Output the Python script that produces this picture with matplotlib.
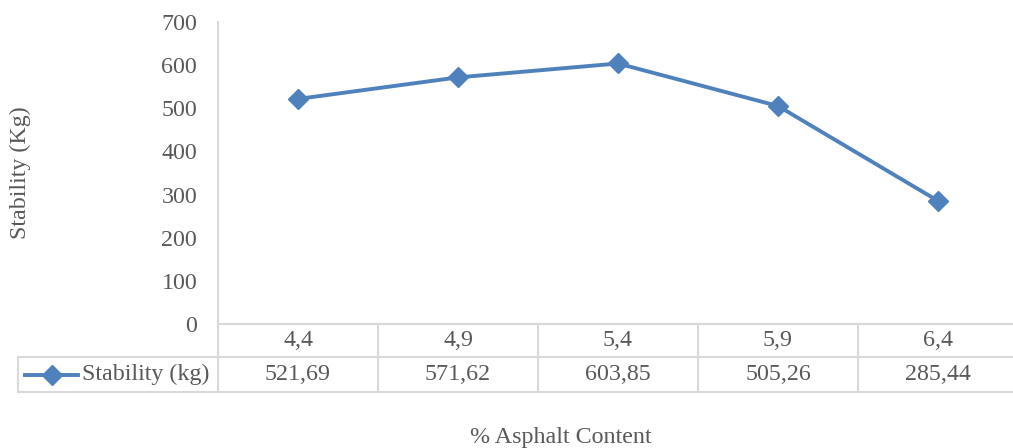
import matplotlib.pyplot as plt
from matplotlib.lines import Line2D

plt.rcParams['font.family'] = ['Liberation Serif', 'DejaVu Serif']

asphalt = ['4,4', '4,9', '5,4', '5,9', '6,4']
stability = [521.69, 571.62, 603.85, 505.26, 285.44]
series_name = 'Stability (kg)'

W, H = 1013, 448
blue = '#4F81BD'
grey_txt = '#595959'
grid = '#D9D9D9'
fs = 17.3

fig = plt.figure(figsize=(W / 100, H / 100), dpi=100)

# plot area in pixels: left 218, right 1018, top 22, bottom 324
L, R, T, B = 218, 1018, 22, 324
ax = fig.add_axes([L / W, 1 - B / H, (R - L) / W, (B - T) / H])
x = list(range(len(asphalt)))
ax.plot(x, stability, color=blue, lw=2.8, marker='D', markersize=10,
        clip_on=False, zorder=3)
ax.set_xlim(-0.5, len(asphalt) - 0.5)
ax.set_ylim(0, 700)
ax.set_yticks(range(0, 701, 100))
ax.set_xticks([])
ax.tick_params(axis='y', length=0, pad=15, labelsize=fs, labelcolor=grey_txt)
for s in ['top', 'right', 'left']:
    ax.spines[s].set_visible(False)
ax.spines['bottom'].set_color(grid)
ax.spines['bottom'].set_linewidth(1.5)


def fx(px):
    return px / W


def fy(py):
    return 1 - py / H


def hline(y, x0, x1):
    fig.add_artist(Line2D([fx(x0), fx(x1)], [fy(y), fy(y)], color=grid, lw=1.5))


def vline(xp, y0, y1):
    fig.add_artist(Line2D([fx(xp), fx(xp)], [fy(y0), fy(y1)], color=grid, lw=1.5))


# data table below the plot
row1, row2, row3 = 324, 357, 392
col_w = (R - L) / len(asphalt)
hline(row2, 18, W)
hline(row3, 18, W)
vline(L, T, row3)
vline(18, row2, row3)
for i in range(1, len(asphalt)):
    vline(L + i * col_w, row1, row3)

for i, (c, v) in enumerate(zip(asphalt, stability)):
    cx = fx(L + (i + 0.5) * col_w)
    fig.text(cx, fy((row1 + row2) / 2), c, ha='center', va='center',
             fontsize=fs, color=grey_txt)
    fig.text(cx, fy((row2 + row3) / 2), f'{v:.2f}'.replace('.', ','),
             ha='center', va='center', fontsize=fs, color=grey_txt)

# legend key inside the table
ky = fy((row2 + row3) / 2)
fig.add_artist(Line2D([fx(25), fx(78)], [ky, ky], color=blue, lw=2.8))
fig.add_artist(Line2D([fx(51.5)], [ky], color=blue, marker='D', markersize=10))
fig.text(fx(82), ky, series_name, ha='left', va='center', fontsize=fs,
         color=grey_txt)

fig.text(fx(20), fy((T + B) / 2), 'Stability (Kg)', rotation=90, ha='center',
         va='center', fontsize=fs, color=grey_txt)
fig.text(fx(561), fy(437), '% Asphalt Content', ha='center', va='center',
         fontsize=fs, color=grey_txt)

fig.savefig('out.png', dpi=100)
